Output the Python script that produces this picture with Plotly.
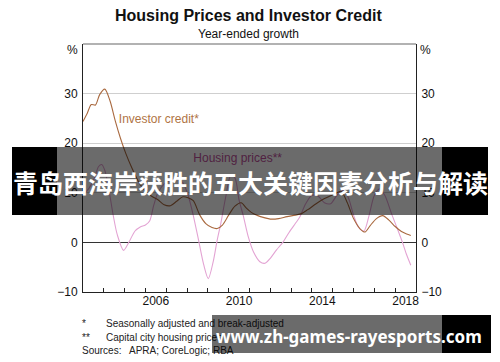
import plotly.graph_objects as go

# ---------------- data ----------------
credit_x = [2003.0, 2003.2, 2003.4, 2003.6, 2003.8, 2004.05, 2004.3, 2004.55, 2004.8, 2005.05,
            2005.35, 2005.7, 2006.0, 2006.3, 2006.6, 2006.9, 2007.2, 2007.5, 2007.8, 2008.05,
            2008.3, 2008.6, 2008.9, 2009.2, 2009.45, 2009.7, 2010.0, 2010.3, 2010.6, 2010.85,
            2011.1, 2011.4, 2011.7, 2012.0, 2012.4, 2012.8, 2013.2, 2013.5, 2013.8, 2014.2,
            2014.5, 2014.8, 2015.1, 2015.4, 2015.7, 2016.0, 2016.3, 2016.55, 2016.8, 2017.1,
            2017.4, 2017.7, 2018.0, 2018.3, 2018.55, 2018.75]
credit_y = [24.4, 26.0, 27.8, 27.7, 29.8, 30.9, 28.5, 24.5, 21.0, 18.0,
            15.0, 12.0, 10.3, 9.3, 8.6, 7.6, 7.4, 8.3, 9.2, 9.0,
            8.4, 5.6, 3.8, 3.0, 2.8, 3.5, 5.5, 7.3, 8.0, 6.9,
            6.0, 5.4, 5.0, 4.7, 4.8, 5.2, 5.5, 5.8, 6.6, 7.8,
            8.6, 9.2, 9.8, 10.3, 8.0, 4.8, 2.8, 2.1, 3.4, 4.8,
            5.4, 4.5, 3.2, 2.2, 1.7, 1.4]

housing_x = [2003.0, 2003.3, 2003.55, 2003.75, 2003.9, 2004.05, 2004.25, 2004.45, 2004.65, 2004.95,
             2005.2, 2005.5, 2005.75, 2006.0, 2006.2, 2006.4, 2006.6, 2006.9, 2007.2, 2007.5,
             2007.8, 2008.05, 2008.3, 2008.55, 2008.8, 2009.02, 2009.25, 2009.45, 2009.62, 2009.85,
             2010.1, 2010.3, 2010.5, 2010.7, 2010.95, 2011.2, 2011.5, 2011.75, 2012.0, 2012.3,
             2012.6, 2012.9, 2013.2, 2013.4, 2013.7, 2014.0, 2014.3, 2014.6, 2014.9, 2015.2,
             2015.5, 2015.75, 2016.0, 2016.25, 2016.5, 2016.75, 2017.0, 2017.25, 2017.5, 2017.85,
             2018.1, 2018.35, 2018.55, 2018.75]
housing_y = [9.5, 11.0, 13.0, 15.3, 15.7, 14.5, 10.5, 5.5, 1.5, -1.6,
             0.0, 2.3, 3.1, 3.5, 4.3, 7.5, 10.0, 11.8, 12.6, 13.0,
             12.0, 9.5, 5.4, 0.5, -4.5, -7.3, -4.0, 0.5, 3.8, 9.0,
             13.5, 13.0, 8.5, 5.4, 1.0, -2.0, -3.9, -4.2, -3.2, -1.5,
             0.0, 2.0, 3.8, 5.0, 7.8, 9.5, 9.3, 8.0, 7.8, 9.5,
             10.5, 9.0, 5.5, 3.0, 2.3, 5.5, 9.5, 10.8, 9.5, 5.5,
             2.8, 0.0, -2.5, -4.6]

y_ticks = [-10, 0, 10, 20, 30]
year_ticks = list(range(2003, 2020))
year_labels = [2006, 2010, 2014, 2018]

title = "Housing Prices and Investor Credit"
subtitle = "Year-ended growth"
credit_label = "Investor credit*"
housing_label = "Housing prices**"
footnotes = [("*", "Seasonally adjusted and break-adjusted"),
             ("**", "Capital city housing prices"),
             ("Sources:", "APRA; CoreLogic; RBA")]
banner_text = "青岛西海岸获胜的五大关键因素分析与解读"
watermark_text = "www.zh-games-rayesports.com"

# ---------------- layout helpers ----------------
W_FIG, H_FIG = 500, 362
L, R, T, B = 83, 416, 44, 292
PW, PH = R - L, B - T


def px(x):
    return (x - L) / PW


def py(y):
    return (B - y) / PH


FONT = "Arial, Liberation Sans, sans-serif"
CREDIT_C = "#a9693f"
HOUSING_C = "#e3a3d3"
OVER = "rgba(0,0,0,0.58)"

fig = go.Figure()

fig.add_trace(go.Scatter(x=housing_x, y=housing_y, mode="lines",
                         line=dict(color=HOUSING_C, width=1.1, shape="spline", smoothing=0.8),
                         hoverinfo="skip", showlegend=False))
fig.add_trace(go.Scatter(x=credit_x, y=credit_y, mode="lines",
                         line=dict(color=CREDIT_C, width=1.1, shape="spline", smoothing=0.8),
                         hoverinfo="skip", showlegend=False))
# series labels as text traces (so they sit under the banner overlay)
fig.add_trace(go.Scatter(x=[2004.72], y=[24.6], mode="text", text=[credit_label],
                         textposition="middle right",
                         textfont=dict(family=FONT, size=12, color="#b07444"),
                         hoverinfo="skip", showlegend=False))
fig.add_trace(go.Scatter(x=[2008.3], y=[16.8], mode="text", text=[housing_label],
                         textposition="middle right",
                         textfont=dict(family=FONT, size=12, color="#c0509c"),
                         hoverinfo="skip", showlegend=False))
# invisible traces to anchor secondary axes
fig.add_trace(go.Scatter(x=[2003], y=[0], xaxis="x2", yaxis="y2", mode="markers",
                         marker=dict(opacity=0), hoverinfo="skip", showlegend=False))

fig.update_layout(
    width=W_FIG, height=H_FIG,
    margin=dict(l=L, r=W_FIG - R, t=T, b=H_FIG - B),
    paper_bgcolor="white", plot_bgcolor="white",
    font=dict(family=FONT, size=12, color="black"),
    xaxis=dict(range=[2003, 2019], tickvals=year_ticks, showticklabels=False,
               ticks="inside", ticklen=4, tickcolor="#222", showgrid=False,
               showline=True, linecolor="#222", linewidth=1, zeroline=False),
    xaxis2=dict(range=[2003, 2019], overlaying="x", side="bottom",
                tickvals=[y + 0.5 for y in year_labels], ticktext=[str(y) for y in year_labels],
                ticks="", showgrid=False, showline=False, zeroline=False,
                tickfont=dict(family=FONT, size=12, color="#111")),
    yaxis=dict(range=[-10, 40], tickvals=y_ticks, ticks="", showgrid=True,
               gridcolor="#cfcfcf", gridwidth=1, zeroline=True, zerolinecolor="#333",
               zerolinewidth=1, showline=True, linecolor="#222", linewidth=1,
               tickfont=dict(family=FONT, size=12, color="#111"), ticklabelstandoff=2),
    yaxis2=dict(range=[-10, 40], overlaying="y", side="right", tickvals=y_ticks,
                ticks="", showgrid=False, zeroline=False, showline=True,
                linecolor="#222", linewidth=1,
                tickfont=dict(family=FONT, size=12, color="#111"), ticklabelstandoff=2),
)

shapes = [
    # top frame line
    dict(type="line", xref="paper", yref="paper", x0=0, x1=1, y0=1, y1=1,
         line=dict(color="#999", width=1.5), layer="below"),
    # banner over the plot
    dict(type="rect", xref="paper", yref="paper", x0=px(12), x1=px(57), y0=py(215), y1=py(147),
         fillcolor="black", line=dict(width=0), layer="above"),
    dict(type="rect", xref="paper", yref="paper", x0=px(57), x1=px(442), y0=py(215), y1=py(147),
         fillcolor=OVER, line=dict(width=0), layer="above"),
    dict(type="rect", xref="paper", yref="paper", x0=px(442), x1=px(488), y0=py(215), y1=py(147),
         fillcolor="black", line=dict(width=0), layer="above"),
]
fig.update_layout(shapes=shapes)

ann = []
ann.append(dict(text="<b>" + title + "</b>", x=px(248), y=py(15.5), xref="paper", yref="paper",
                showarrow=False, font=dict(family=FONT, size=16, color="#111"),
                xanchor="center", yanchor="middle"))
ann.append(dict(text=subtitle, x=px(248), y=py(33.5), xref="paper", yref="paper",
                showarrow=False, font=dict(family=FONT, size=12, color="#111"),
                xanchor="center", yanchor="middle"))
ann.append(dict(text="%", x=px(80), y=py(50), xref="paper", yref="paper", showarrow=False,
                font=dict(family=FONT, size=12, color="#111"), xanchor="right", yanchor="middle"))
ann.append(dict(text="%", x=px(418), y=py(50), xref="paper", yref="paper", showarrow=False,
                font=dict(family=FONT, size=12, color="#111"), xanchor="left", yanchor="middle"))

foot_y = [323.5, 337, 350]
for (mark, txt), fy in zip(footnotes, foot_y):
    ann.append(dict(text=mark, x=px(80), y=py(fy), xref="paper", yref="paper", showarrow=False,
                    font=dict(family=FONT, size=10, color="#222"), xanchor="left", yanchor="middle"))
    tx = 127 if mark == "Sources:" else 104
    ann.append(dict(text=txt, x=px(tx), y=py(fy), xref="paper", yref="paper", showarrow=False,
                    font=dict(family=FONT, size=10, color="#222"), xanchor="left", yanchor="middle"))

# banner text
ann.append(dict(text="<b>" + banner_text + "</b>", x=px(250), y=py(182), xref="paper", yref="paper",
                showarrow=False, font=dict(family="Noto Sans CJK SC", size=25, color="white"),
                xanchor="center", yanchor="middle"))

# watermark boxes (annotations so they sit above the footnotes)
ann.append(dict(text=" ", x=px(212), y=py(315), xref="paper", yref="paper", showarrow=False,
                width=230, height=38, bgcolor=OVER, borderpad=0, borderwidth=0,
                xanchor="left", yanchor="top", font=dict(size=2)))
ann.append(dict(text=" ", x=px(442), y=py(315), xref="paper", yref="paper", showarrow=False,
                width=49, height=38, bgcolor="black", borderpad=0, borderwidth=0,
                xanchor="left", yanchor="top", font=dict(size=2)))
ann.append(dict(text="<b>" + watermark_text + "</b>", x=px(348.5), y=py(336), xref="paper",
                yref="paper", showarrow=False,
                font=dict(family="Noto Sans, Open Sans, sans-serif", size=17, color="white"),
                xanchor="center", yanchor="middle"))

fig.update_layout(annotations=ann)

fig.write_html("out.html", config={"displayModeBar": False},
               post_script="document.body.style.margin='0px';")
